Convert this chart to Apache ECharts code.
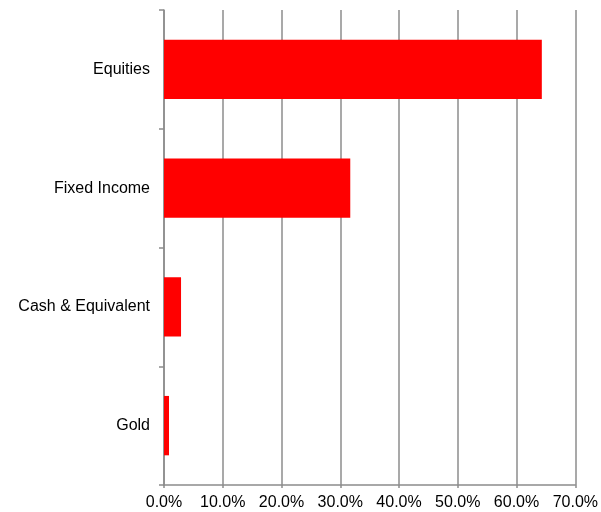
<!DOCTYPE html>
<html>
<head>
<meta charset="utf-8">
<script src="https://cdn.jsdelivr.net/npm/echarts@6/dist/echarts.min.js"></script>
<style>html,body{margin:0;padding:0;background:#fff;}#c{width:601px;height:512px;}</style>
</head>
<body>
<div id="c"></div>
<script>
const categories = ["Equities", "Fixed Income", "Cash & Equivalent", "Gold"];
const values = [64.3, 31.7, 2.9, 0.85];
const xTicks = [0, 10, 20, 30, 40, 50, 60, 70];

const chart = echarts.init(document.getElementById('c'));
chart.setOption({
  animation: false,
  grid: { left: 164, right: 24, top: 10, bottom: 27, containLabel: false },
  xAxis: {
    type: 'value', min: 0, max: 70, interval: 10,
    axisLine: { show: true, lineStyle: { color: '#8c8c8c', width: 1.5 } },
    axisTick: { show: true, length: 3, lineStyle: { color: '#8c8c8c', width: 1.5 } },
    splitLine: { show: true, lineStyle: { color: '#8c8c8c', width: 1.5 } },
    axisLabel: {
      color: '#000', fontFamily: 'Liberation Sans, Arial, sans-serif', fontSize: 16, margin: 10,
      formatter: v => xTicks.includes(v) ? v.toFixed(1) + '%' : ''
    }
  },
  yAxis: {
    type: 'category', inverse: true, data: categories,
    axisLine: { show: true, lineStyle: { color: '#8c8c8c', width: 1.5 } },
    axisTick: { show: true, length: 5, lineStyle: { color: '#8c8c8c', width: 1.5 } },
    axisLabel: { color: '#000', fontFamily: 'Liberation Sans, Arial, sans-serif', fontSize: 16, margin: 14 }
  },
  series: [{
    type: 'bar', data: values, barWidth: '50%',
    itemStyle: { color: '#ff0000' }
  }]
});
</script>
</body>
</html>
